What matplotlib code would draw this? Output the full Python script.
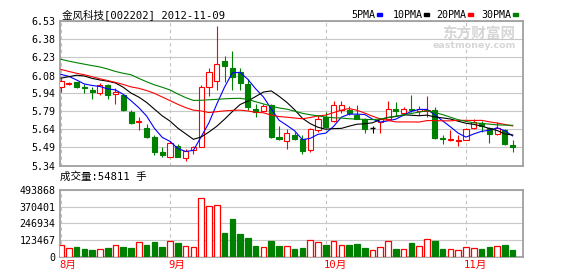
import numpy as np
import matplotlib
matplotlib.use("Agg")
import matplotlib.pyplot as plt
from matplotlib.patches import Rectangle
from matplotlib.transforms import ScaledTranslation

# daily candles, 2012-08 .. 2012-11-09
opens = [5.99, 6.01, 6.03, 5.99, 5.96, 5.94, 6.00, 5.93, 5.92, 5.78,
         5.70, 5.65, 5.58, 5.45, 5.41, 5.50, 5.40, 5.47, 5.49, 5.99,
         6.04, 6.20, 6.14, 6.11, 6.01, 5.81, 5.79, 5.84, 5.58, 5.54,
         5.59, 5.56, 5.47, 5.63, 5.74, 5.71, 5.80, 5.80, 5.76, 5.72,
         5.65, 5.70, 5.72, 5.81, 5.77, 5.81, 5.79, 5.79, 5.80, 5.57,
         5.55, 5.54, 5.55, 5.65, 5.69, 5.65, 5.60, 5.63, 5.51]
highs = [6.06, 6.03, 6.03, 6.01, 5.99, 6.02, 6.01, 5.98, 5.93, 5.80,
         5.74, 5.68, 5.59, 5.49, 5.54, 5.52, 5.48, 5.50, 6.00, 6.14,
         6.49, 6.24, 6.28, 6.14, 6.05, 5.85, 5.85, 5.85, 5.67, 5.64,
         5.62, 5.59, 5.65, 5.76, 5.78, 5.87, 5.87, 5.83, 5.84, 5.73,
         5.67, 5.73, 5.87, 5.86, 5.82, 5.92, 5.83, 5.91, 5.82, 5.59,
         5.63, 5.59, 5.65, 5.72, 5.71, 5.66, 5.70, 5.64, 5.55]
lows = [5.95, 6.00, 5.98, 5.94, 5.89, 5.92, 5.89, 5.85, 5.79, 5.68,
        5.63, 5.57, 5.43, 5.41, 5.41, 5.41, 5.38, 5.44, 5.49, 5.91,
        5.96, 6.03, 5.96, 5.96, 5.80, 5.74, 5.78, 5.57, 5.55, 5.48,
        5.55, 5.44, 5.45, 5.62, 5.65, 5.70, 5.77, 5.76, 5.72, 5.61,
        5.61, 5.61, 5.72, 5.75, 5.76, 5.78, 5.76, 5.74, 5.56, 5.52,
        5.54, 5.50, 5.55, 5.64, 5.62, 5.53, 5.59, 5.51, 5.45]
closes = [6.04, 6.02, 5.99, 5.98, 5.95, 6.00, 5.92, 5.95, 5.80, 5.69,
          5.71, 5.58, 5.45, 5.43, 5.53, 5.41, 5.46, 5.49, 5.99, 6.11,
          6.18, 6.16, 6.07, 6.02, 5.82, 5.78, 5.83, 5.58, 5.56, 5.61,
          5.56, 5.46, 5.64, 5.72, 5.66, 5.84, 5.84, 5.77, 5.72, 5.64,
          5.65, 5.72, 5.81, 5.79, 5.81, 5.80, 5.81, 5.80, 5.57, 5.56,
          5.56, 5.55, 5.64, 5.70, 5.67, 5.60, 5.65, 5.52, 5.49]
volumes = [85600, 66000, 73000, 59000, 51000, 59000, 66000, 86000, 73000, 66000,
           108000, 86000, 108000, 73000, 115000, 100000, 78000, 71000, 430000, 372000,
           379000, 176000, 279000, 169000, 139000, 81000, 71000, 117000, 81000, 81000,
           59000, 66000, 122000, 108000, 88000, 115000, 86000, 88000, 95000, 66000,
           49000, 71000, 115000, 59000, 59000, 103000, 78000, 130000, 115000, 59000,
           59000, 48000, 70000, 66000, 58000, 75000, 83000, 88000, 54811]

# moving average lines
ma5 = [6.091, 6.075, 6.045, 6.012, 6.000, 5.991, 5.972, 5.963, 5.927, 5.874,
       5.817, 5.748, 5.647, 5.573, 5.540, 5.481, 5.457, 5.466, 5.578, 5.693,
       5.846, 5.986, 6.103, 6.108, 6.050, 5.972, 5.905, 5.807, 5.714, 5.672,
       5.627, 5.554, 5.565, 5.598, 5.608, 5.663, 5.739, 5.764, 5.764, 5.761,
       5.723, 5.699, 5.709, 5.723, 5.756, 5.787, 5.803, 5.803, 5.759, 5.709,
       5.660, 5.608, 5.575, 5.601, 5.623, 5.631, 5.652, 5.627, 5.585]
ma10 = [6.060, 6.072, 6.084, 6.078, 6.058, 6.045, 6.035, 6.020, 5.985, 5.937,
        5.904, 5.860, 5.805, 5.750, 5.707, 5.649, 5.603, 5.557, 5.576, 5.617,
        5.664, 5.722, 5.785, 5.843, 5.872, 5.909, 5.946, 5.955, 5.911, 5.861,
        5.800, 5.730, 5.686, 5.656, 5.640, 5.645, 5.647, 5.665, 5.681, 5.685,
        5.693, 5.719, 5.737, 5.744, 5.759, 5.755, 5.751, 5.756, 5.741, 5.733,
        5.724, 5.706, 5.689, 5.680, 5.666, 5.646, 5.630, 5.601, 5.593]
ma20 = [6.132, 6.115, 6.100, 6.088, 6.072, 6.055, 6.040, 6.025, 6.008, 5.988,
        5.976, 5.958, 5.935, 5.905, 5.875, 5.845, 5.818, 5.797, 5.790, 5.777,
        5.784, 5.791, 5.795, 5.797, 5.790, 5.779, 5.775, 5.756, 5.744, 5.739,
        5.732, 5.726, 5.736, 5.750, 5.756, 5.777, 5.797, 5.810, 5.796, 5.773,
        5.747, 5.725, 5.712, 5.700, 5.700, 5.700, 5.699, 5.711, 5.711, 5.709,
        5.709, 5.713, 5.713, 5.712, 5.713, 5.701, 5.691, 5.679, 5.667]
ma30 = [6.215, 6.200, 6.187, 6.175, 6.163, 6.152, 6.135, 6.115, 6.100, 6.088,
        6.058, 6.030, 6.005, 5.985, 5.963, 5.930, 5.900, 5.877, 5.878, 5.882,
        5.886, 5.890, 5.893, 5.894, 5.885, 5.866, 5.848, 5.830, 5.815, 5.805,
        5.789, 5.771, 5.759, 5.750, 5.740, 5.734, 5.732, 5.726, 5.723, 5.721,
        5.719, 5.724, 5.736, 5.748, 5.757, 5.770, 5.781, 5.792, 5.778, 5.760,
        5.739, 5.718, 5.704, 5.693, 5.688, 5.682, 5.676, 5.674, 5.672]

price_ticks = [5.34, 5.49, 5.64, 5.79, 5.94, 6.08, 6.23, 6.38, 6.53]
vol_ticks = [0, 123467, 246934, 370401, 493868]
month_pos = [0, 14, 34, 52]
month_labels = ["8月", "9月", "10月", "11月"]

W, H = 578, 276
RED, GREEN, BLUE = "#ff0000", "#008000", "#0000ff"
FRAME, GRID = "#a0a0a0", "#c8c8c8"
MONO = ["DejaVu Sans Mono", "Noto Sans CJK SC"]

fig = plt.figure(figsize=(W / 100, H / 100), dpi=100)
ax = fig.add_axes([59.5 / W, (H - 165.7) / H, 463 / W, 144.7 / H])
axv = fig.add_axes([59.5 / W, (H - 257) / H, 463 / W, 67.3 / H])

x = np.arange(len(closes))
o = np.array(opens); c = np.array(closes)
h = np.array(highs); l = np.array(lows)

for a in (ax, axv):
    a.set_xlim(-0.19, 59.26)
    for s in a.spines.values():
        s.set_color(FRAME)
        s.set_linewidth(1.3)
    for m in month_pos:
        a.axvline(m, color="#c0c0c0", lw=0.8, ls=(0, (3, 3)), zorder=0)

# price panel
ax.set_ylim(price_ticks[0], price_ticks[-1])
for t in price_ticks:
    ax.axhline(t, color=GRID, lw=0.8, zorder=0)
ax.set_yticks(price_ticks)
ax.set_yticklabels(["%.2f" % t for t in price_ticks], fontfamily="DejaVu Sans Mono", fontsize=7.2)
ax.tick_params(axis="y", length=0, pad=3)
ax.set_xticks([])

up = c > o
down = c < o
flat = c == o
cols = np.where(up, RED, np.where(down, GREEN, "black"))
ax.vlines(x, l, h, colors=cols, lw=0.8, zorder=2)
bw = 0.66
ax.bar(x[up], (c - o)[up], bottom=o[up], width=bw, facecolor="white",
       edgecolor=RED, lw=0.8, zorder=3)
ax.bar(x[down], (o - c)[down], bottom=c[down], width=bw, facecolor=GREEN,
       edgecolor=GREEN, lw=0.8, zorder=3)
ax.hlines(c[flat], x[flat] - bw / 2, x[flat] + bw / 2, colors="black", lw=1, zorder=3)

ax.plot(x, ma5, color=BLUE, lw=0.8, zorder=4)
ax.plot(x, ma10, color="black", lw=0.8, zorder=4)
ax.plot(x, ma20, color=RED, lw=0.8, zorder=4)
ax.plot(x, ma30, color=GREEN, lw=0.8, zorder=4)

# volume panel
v = np.array(volumes)
vup = c >= o
axv.set_ylim(0, vol_ticks[-1])
for t in vol_ticks:
    axv.axhline(t, color=GRID, lw=0.8, zorder=0)
axv.set_yticks(vol_ticks)
axv.set_yticklabels([str(t) for t in vol_ticks], fontfamily="DejaVu Sans Mono", fontsize=7.2)
axv.tick_params(axis="y", length=0, pad=3)
axv.bar(x[vup], v[vup], width=0.72, facecolor="white", edgecolor=RED, lw=0.9, zorder=3)
axv.bar(x[~vup], v[~vup], width=0.72, facecolor=GREEN, edgecolor=GREEN, lw=0.9, zorder=3)

axv.set_xticks(month_pos)
axv.set_xticklabels(month_labels, fontfamily=MONO, fontsize=7.6, color=RED)
axv.tick_params(axis="x", length=0, pad=2)
shift = ScaledTranslation(-2 / 100, 0, fig.dpi_scale_trans)
for lbl in axv.get_xticklabels():
    lbl.set_horizontalalignment("left")
    lbl.set_transform(lbl.get_transform() + shift)

# texts
fig.text(62 / W, 1 - 14.5 / H, "金风科技[002202] 2012-11-09", family=MONO,
         fontsize=7.6, va="center", ha="left")
fig.text(60 / W, 1 - 177 / H, "成交量:54811 手", family=MONO,
         fontsize=7.6, va="center", ha="left")

legend_items = [("5PMA", BLUE, 351.7), ("10PMA", "black", 392.7),
                ("20PMA", RED, 436.7), ("30PMA", GREEN, 481.7)]
for name, col, lx in legend_items:
    fig.text(lx / W, 1 - 14.5 / H, name, family="DejaVu Sans Mono",
             fontsize=7.2, va="center", ha="left")
    rx = lx + 6 * len(name) + 1
    fig.patches.append(Rectangle((rx / W, 1 - 16 / H), 5.5 / W, 3.5 / H,
                                 transform=fig.transFigure, color=col, figure=fig))

# watermark
fig.text(479 / W, 1 - 34 / H, "东方财富网", family="Noto Sans CJK SC", fontsize=10.5,
         fontweight="bold", color="#d6d6d6", ha="center", va="center")
fig.text(474 / W, 1 - 45.5 / H, "eastmoney.com", family="DejaVu Sans", fontsize=6.8,
         fontweight="bold", color="#d6d6d6", ha="center", va="center")

fig.savefig("out.png", dpi=100)
